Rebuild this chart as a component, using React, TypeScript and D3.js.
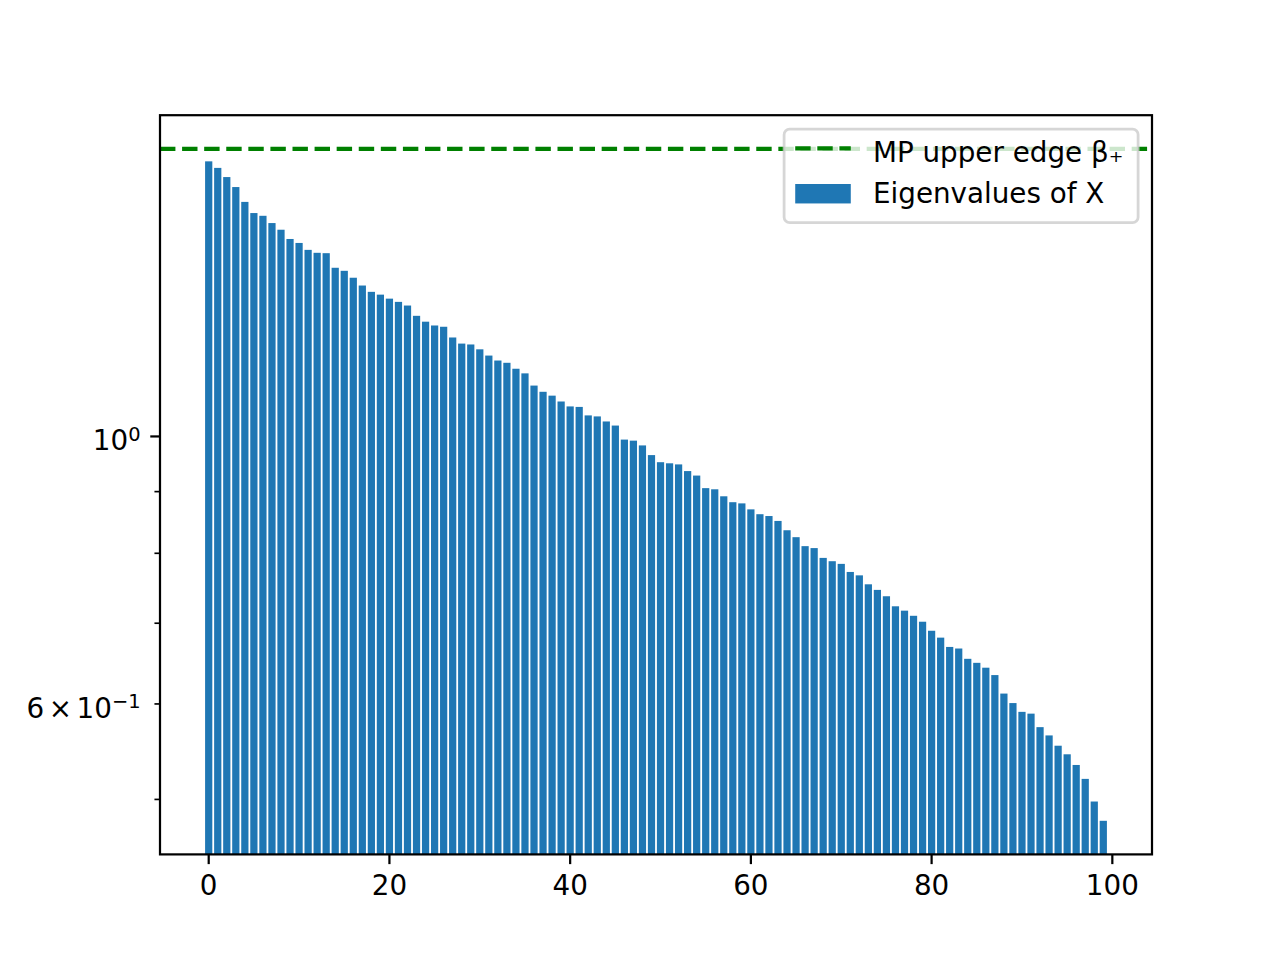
import * as d3 from "d3";
import { useEffect, useRef } from "react";

// eigenvalues, sorted descending
const eigenvalues: number[] = [
  1.691, 1.67, 1.641, 1.61, 1.565, 1.532, 1.524, 1.503, 1.484, 1.458,
  1.447, 1.428, 1.42, 1.419, 1.38, 1.372, 1.354, 1.334, 1.318, 1.311,
  1.301, 1.293, 1.284, 1.259, 1.245, 1.236, 1.233, 1.208, 1.194, 1.192,
  1.181, 1.167, 1.156, 1.151, 1.138, 1.128, 1.102, 1.089, 1.081, 1.069,
  1.059, 1.058, 1.041, 1.039, 1.029, 1.021, 0.994, 0.992, 0.983, 0.965,
  0.952, 0.95, 0.948, 0.936, 0.928, 0.906, 0.904, 0.892, 0.882, 0.88,
  0.87, 0.862, 0.859, 0.851, 0.836, 0.825, 0.811, 0.808, 0.793, 0.788,
  0.784, 0.772, 0.767, 0.754, 0.746, 0.737, 0.723, 0.717, 0.71, 0.702,
  0.69, 0.681, 0.669, 0.667, 0.654, 0.649, 0.643, 0.634, 0.612, 0.601,
  0.591, 0.589, 0.574, 0.565, 0.554, 0.545, 0.534, 0.52, 0.498, 0.48,
];
const mpUpperEdge = 1.732;

const xTicks = [0, 20, 40, 60, 80, 100];
const yMajorTicks = [1];
const yMinorTicks = [0.5, 0.6, 0.7, 0.8, 0.9];
const yLabelTicks = [1, 0.6];
const legendLabels = ["MP upper edge β₊", "Eigenvalues of X"];

const W = 1280;
const H = 960;
const pt = 200 / 72;
const fontSize = 10 * pt;
const font = "DejaVu Sans, sans-serif";
const blue = "#1f77b4";

const EigenChart = () => {
  const ref = useRef<SVGSVGElement | null>(null);

  useEffect(() => {
    if (!ref.current) return;
    const svg = d3.select(ref.current);
    svg.selectAll("*").remove();

    const left = 0.125 * W,
      right = 0.9 * W,
      top = 0.12 * H,
      bottom = 0.89 * H;

    // matplotlib style 5% margins
    const xMin = -0.4,
      xMax = eigenvalues.length - 1 + 0.4;
    const xPad = (xMax - xMin) * 0.05;
    const x = d3
      .scaleLinear()
      .domain([xMin - xPad, xMax + xPad])
      .range([left, right]);

    const lo = Math.log10(d3.min(eigenvalues) as number);
    const hi = Math.log10(mpUpperEdge);
    const yPad = (hi - lo) * 0.05;
    const y = d3
      .scaleLog()
      .domain([Math.pow(10, lo - yPad), Math.pow(10, hi + yPad)])
      .range([bottom, top]);

    svg.append("rect").attr("width", W).attr("height", H).attr("fill", "white");

    // bars
    const bw = x(0.4) - x(0);
    svg
      .append("g")
      .selectAll("rect")
      .data(eigenvalues)
      .enter()
      .append("rect")
      .attr("x", (_, i) => x(i) - bw)
      .attr("y", (d) => y(d))
      .attr("width", bw * 2)
      .attr("height", (d) => bottom - y(d))
      .attr("fill", blue);

    // MP upper edge line
    svg
      .append("line")
      .attr("x1", left)
      .attr("x2", right)
      .attr("y1", y(mpUpperEdge))
      .attr("y2", y(mpUpperEdge))
      .attr("stroke", "green")
      .attr("stroke-width", 1.5 * pt)
      .attr("stroke-dasharray", `${3.7 * 1.5 * pt},${1.6 * 1.5 * pt}`);

    // spines
    svg
      .append("rect")
      .attr("x", left)
      .attr("y", top)
      .attr("width", right - left)
      .attr("height", bottom - top)
      .attr("fill", "none")
      .attr("stroke", "black")
      .attr("stroke-width", 0.8 * pt);

    const majorLen = 3.5 * pt;
    const minorLen = 2 * pt;
    const padLen = 3.5 * pt;

    // x ticks
    const gx = svg.append("g");
    xTicks.forEach((t) => {
      gx.append("line")
        .attr("x1", x(t))
        .attr("x2", x(t))
        .attr("y1", bottom)
        .attr("y2", bottom + majorLen)
        .attr("stroke", "black")
        .attr("stroke-width", 0.8 * pt);
      gx.append("text")
        .attr("x", x(t))
        .attr("y", bottom + majorLen + padLen + 0.76 * fontSize)
        .attr("text-anchor", "middle")
        .attr("font-family", font)
        .attr("font-size", fontSize)
        .text(t);
    });

    // y ticks
    const gy = svg.append("g");
    yMajorTicks.forEach((t) => {
      gy.append("line")
        .attr("x1", left - majorLen)
        .attr("x2", left)
        .attr("y1", y(t))
        .attr("y2", y(t))
        .attr("stroke", "black")
        .attr("stroke-width", 0.8 * pt);
    });
    yMinorTicks.forEach((t) => {
      gy.append("line")
        .attr("x1", left - minorLen)
        .attr("x2", left)
        .attr("y1", y(t))
        .attr("y2", y(t))
        .attr("stroke", "black")
        .attr("stroke-width", 0.6 * pt);
    });
    yLabelTicks.forEach((t) => {
      const exp = Math.floor(Math.log10(t) + 1e-9);
      const mant = Math.round(t / Math.pow(10, exp));
      const txt = gy
        .append("text")
        .attr("x", left - majorLen - padLen)
        .attr("y", y(t) + 14)
        .attr("text-anchor", "end")
        .attr("font-family", font)
        .attr("font-size", fontSize);
      if (mant !== 1) {
        txt.append("tspan").text(mant);
        txt.append("tspan").attr("dx", 4.5).text("×");
        txt.append("tspan").attr("dx", 4.5).text("10");
      } else {
        txt.append("tspan").text("10");
      }
      txt
        .append("tspan")
        .attr("dy", -9.5)
        .attr("font-size", fontSize * 0.7)
        .text(exp < 0 ? `−${-exp}` : `${exp}`);
    });

    // legend
    const lx = right - 0.5 * fontSize - 354;
    const ly = top + 0.5 * fontSize;
    const lg = svg.append("g");
    lg.append("rect")
      .attr("x", lx)
      .attr("y", ly)
      .attr("width", 354)
      .attr("height", 93.6)
      .attr("rx", 0.2 * fontSize)
      .attr("fill", "white")
      .attr("fill-opacity", 0.8)
      .attr("stroke", "#cccccc")
      .attr("stroke-opacity", 0.8)
      .attr("stroke-width", pt);
    const hx = lx + 0.4 * fontSize;
    const hw = 2 * fontSize;
    const tx = hx + hw + 0.8 * fontSize;
    lg.append("line")
      .attr("x1", hx)
      .attr("x2", hx + hw)
      .attr("y1", 148.4)
      .attr("y2", 148.4)
      .attr("stroke", "green")
      .attr("stroke-width", 1.5 * pt)
      .attr("stroke-dasharray", `${3.7 * 1.5 * pt},${1.6 * 1.5 * pt}`);
    lg.append("rect")
      .attr("x", hx)
      .attr("y", 184)
      .attr("width", hw)
      .attr("height", 0.7 * fontSize)
      .attr("fill", blue);
    legendLabels.forEach((label, i) => {
      lg.append("text")
        .attr("x", tx)
        .attr("y", 162.3 + i * 41)
        .attr("font-family", font)
        .attr("font-size", fontSize)
        .text(label);
    });
  }, []);

  return (
    <svg
      ref={ref}
      width={W}
      height={H}
      style={{ position: "absolute", left: 0, top: 0 }}
    />
  );
};

export default function App() {
  return <EigenChart />;
}
